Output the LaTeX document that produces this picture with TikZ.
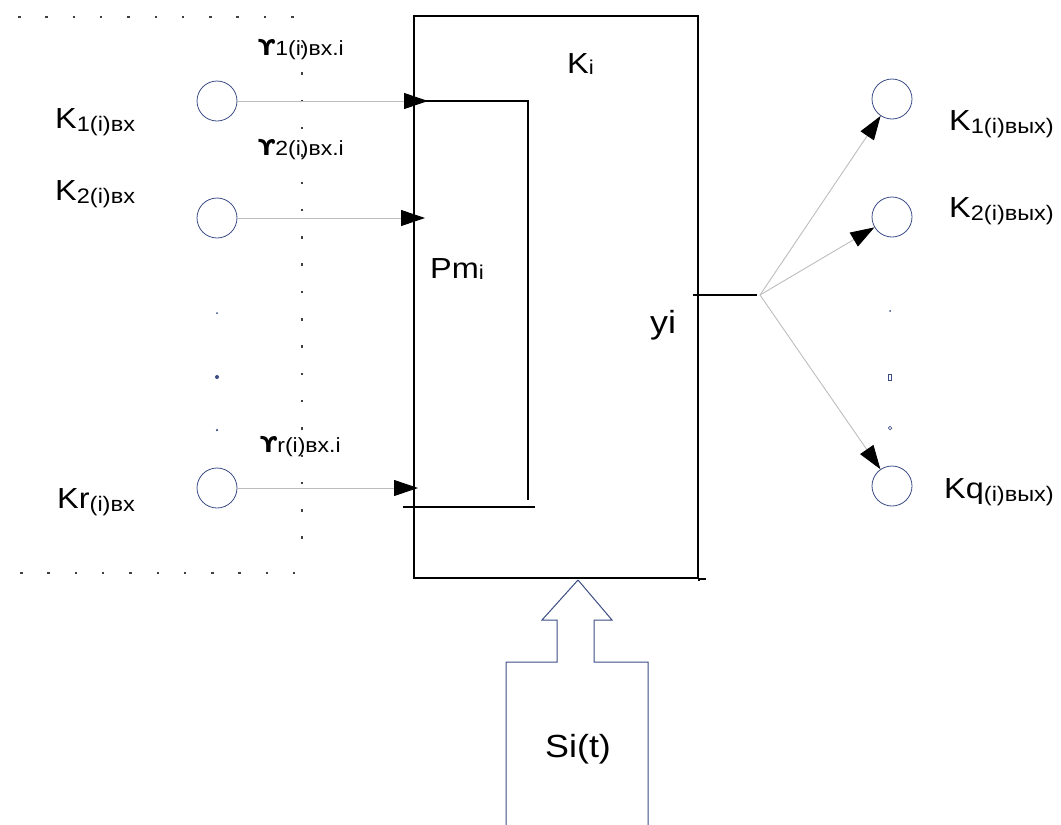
\documentclass[tikz,border=0pt]{standalone}
\usepackage{fontspec}
\setmainfont{Liberation Sans}[FakeStretch=1.12]
\newfontfamily\upsfont{DejaVu Sans}[FakeStretch=1.05]
\usetikzlibrary{arrows.meta}
\definecolor{circblue}{HTML}{3B4C86}
\definecolor{lineg}{HTML}{BDBDBD}
\newcommand{\lowsub}[1]{\raisebox{-3pt}{\fontsize{21}{21}\selectfont #1}}
\newcommand{\smallsub}[1]{\raisebox{-1pt}{\fontsize{20}{20}\selectfont #1}}
\newcommand{\upsglyph}{{\upsfont\bfseries\fontsize{22}{22}\selectfont ϒ}}
\begin{document}
\begin{tikzpicture}[x=1pt,y=-1pt,
  lbl/.style={inner sep=0pt, anchor=base west, font=\fontsize{29}{29}\selectfont},
  big/.style={inner sep=0pt, anchor=base west, font=\fontsize{32}{32}\selectfont},
  ups/.style={inner sep=0pt, anchor=base west, font=\fontsize{20.5}{20.5}\selectfont},
  port/.style={circle, draw=circblue, line width=0.8pt, minimum size=40pt, inner sep=0pt},
  feed/.style={draw=lineg, line width=0.9pt, -{Triangle[length=24pt,width=16pt,color=black]}},
  dotb/.style={draw=black!75, line width=1.6pt, dash pattern=on 2.5pt off 24.8pt},
  wire/.style={draw=black, line width=1.5pt},
  sig/.style={draw=circblue, line width=1pt},
  mark/.style={circle, fill=circblue, inner sep=0pt, minimum size=#1}]
\useasboundingbox (0,0) rectangle (1061,825);

% dotted boundary
\draw[dotb] (18,17) -- (302,17);
\draw[dotb] (302,45) -- (302,560);
\draw[dotb] (20,573) -- (295,573);

% main box
\node[draw, line width=1.5pt, minimum width=284pt, minimum height=562pt, inner sep=0pt] (box) at (556,297) {};
\draw[wire] (box.south east) -- ++(7,0);
\draw[wire] (box.south east) -- ++(0,2);

% inner bracket (Pm)
\coordinate (t1) at (428,101);
\coordinate (t2) at (425,218);
\coordinate (tr) at (418,488);
\coordinate (pa) at (414,101);
\coordinate (pb) at (528,101);
\coordinate (pc) at (528,500);
\coordinate (qa) at (403,507);
\coordinate (qb) at (535,507);
\draw[wire, line width=1.3pt] (pa) -- (pb) -- (pc);
\draw[wire, line width=1.3pt] (qa) -- (qb);

% input ports
\node[port] (ci1) at (217,101) {};
\node[port] (ci2) at (217,218) {};
\node[port] (cir) at (217,488) {};
\draw[feed] (ci1) -- (t1);
\draw[feed] (ci2) -- (t2);
\draw[feed] (cir) -- (tr);

\node[mark=2pt] (m1) at (217,313) {};
\node[mark=4pt] (m2) at (217,377) {};
\node[mark=2.5pt] (m3) at (217,430) {};

% input labels
\node[lbl] (l1) at (55,128) {K\lowsub{1(i)вх}};
\node[lbl] (l2) at (55,200) {K\lowsub{2(i)вх}};
\node[lbl] (lr) at (57,508) {Kr\lowsub{(i)вх}};

\node[ups] (u1) at (258,55) {\upsglyph 1(i)вх.i};
\node[ups] (u2) at (258,155) {\upsglyph 2(i)вх.i};
\node[ups] (ur) at (260,452) {\upsglyph r(i)вх.i};

% inner labels
\node[lbl] (ki) at (567,73) {K\smallsub{i}};
\node[lbl] (pm) at (430,278) {Pm\smallsub{i}};
\node[big] (yi) at (650,333) {yi};

% output side
\coordinate (oa) at (693,295);
\coordinate (ob) at (757,295);
\coordinate (fan) at (760,295);
\draw[wire, line width=1.3pt] (oa) -- (ob);
\node[port] (co1) at (892,99) {};
\node[port] (co2) at (892,217) {};
\node[port] (coq) at (892,486) {};
\draw[feed] (fan) -- (co1);
\draw[feed] (fan) -- (co2);
\draw[feed] (fan) -- (coq);

\node[mark=2pt] (n1) at (890,311) {};
\node[draw=circblue, line width=0.8pt, inner sep=0pt, minimum width=3pt, minimum height=6pt] (n2) at (890,377) {};
\node[circle, draw=circblue, line width=0.7pt, inner sep=0pt, minimum size=3.5pt] (n3) at (890,428) {};

\node[lbl] (r1) at (949,130) {K\lowsub{1(i)вых)}};
\node[lbl] (r2) at (949,217) {K\lowsub{2(i)вых)}};
\node[lbl] (rq) at (944,498) {Kq\lowsub{(i)вых)}};

% signal source block
\coordinate (sa) at (578,580);
\draw[sig] (sa) -- (612,620) -- (594,620) -- (594,662) -- (648,662) -- (648,825);
\draw[sig] (sa) -- (542,620) -- (557,620) -- (557,662) -- (506,662) -- (506,825);
\node[big] (si) at (545,757) {Si(t)};
\end{tikzpicture}
\end{document}
